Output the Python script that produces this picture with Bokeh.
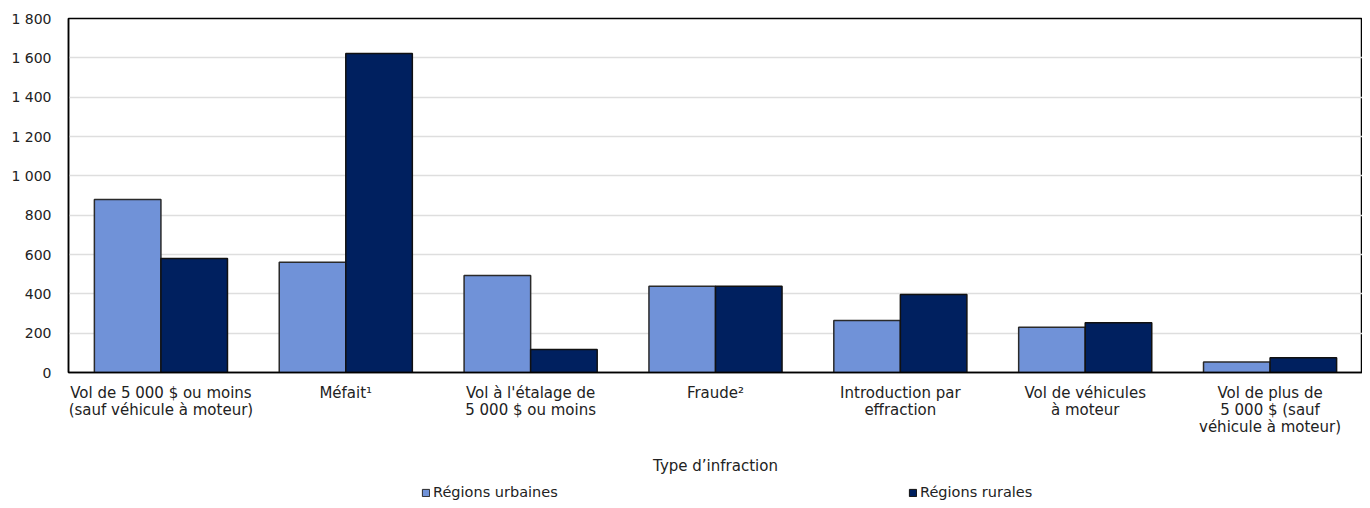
from bokeh.plotting import figure
from bokeh.layouts import column
from bokeh.models import FactorRange, Range1d, FixedTicker, Legend, LegendItem, ColumnDataSource
from bokeh.transform import dodge
from bokeh.embed import file_html
from bokeh.resources import INLINE

categories = [
    "Vol de 5 000 $ ou moins\n(sauf véhicule à moteur)",
    "Méfait¹",
    "Vol à l'étalage de\n5 000 $ ou moins",
    "Fraude²",
    "Introduction par\neffraction",
    "Vol de véhicules\nà moteur",
    "Vol de plus de\n5 000 $ (sauf\nvéhicule à moteur)",
]
urbaines = [880, 560, 493, 438, 264, 230, 54]
rurales = [580, 1622, 117, 438, 397, 253, 75]
y_ticks = [0, 200, 400, 600, 800, 1000, 1200, 1400, 1600, 1800]
y_tick_labels = ["0", "200", "400", "600", "800", "1 000", "1 200", "1 400", "1 600", "1 800"]
series_names = ["Régions urbaines", "Régions rurales"]
series_colors = ["#7092D8", "#00205F"]
x_title = "Type d’infraction"

FONT = "DejaVu Sans"
TXT = "#222222"

src = ColumnDataSource(dict(cat=categories, urb=urbaines, rur=rurales))
xr = FactorRange(*categories, range_padding=0)

p = figure(width=1362, height=478, x_range=xr,
           y_range=Range1d(0, 1800), output_backend="svg", toolbar_location=None,
           min_border_left=68, min_border_right=0, min_border_top=18, min_border_bottom=106)

r1 = p.vbar(x=dodge("cat", -0.18, range=xr), top="urb", width=0.36, source=src,
            fill_color=series_colors[0], line_color="#2a2a2a", line_width=1.5)
r2 = p.vbar(x=dodge("cat", 0.18, range=xr), top="rur", width=0.36, source=src,
            fill_color=series_colors[1], line_color="#111111", line_width=1.5)

p.outline_line_color = "black"
p.outline_line_width = 1.5
p.xgrid.grid_line_color = None
p.ygrid.grid_line_color = "#dedede"
p.ygrid.grid_line_width = 1.5

p.yaxis.ticker = FixedTicker(ticks=y_ticks)
p.yaxis.major_label_overrides = {t: l for t, l in zip(y_ticks, y_tick_labels)}
p.yaxis.major_tick_line_color = None
p.yaxis.minor_tick_line_color = None
p.yaxis.axis_line_color = "black"
p.yaxis.axis_line_width = 1.5
p.yaxis.major_label_standoff = 11
p.yaxis.major_label_text_font = FONT
p.yaxis.major_label_text_font_size = "14px"
p.yaxis.major_label_text_color = TXT

p.xaxis.major_label_text_font = FONT
p.xaxis.major_label_text_font_size = "15px"
p.xaxis.major_label_text_color = TXT
p.xaxis.major_label_text_line_height = 0.97
p.xaxis.major_tick_line_color = None
p.xaxis.minor_tick_line_color = None
p.xaxis.axis_line_color = "black"
p.xaxis.axis_line_width = 1.5
p.xaxis.major_label_standoff = 5
p.xaxis.axis_label = x_title
p.xaxis.axis_label_text_font = FONT
p.xaxis.axis_label_text_font_size = "15px"
p.xaxis.axis_label_text_font_style = "normal"
p.xaxis.axis_label_text_color = TXT
p.xaxis.axis_label_standoff = 18

# legend strip below the chart (hidden proxy renderers carry the legend styles)
q = figure(width=1362, height=22, x_range=xr, y_range=Range1d(0, 1800),
           output_backend="svg", toolbar_location=None,
           min_border_left=68, min_border_right=0, min_border_top=0, min_border_bottom=0)
q.axis.visible = False
q.grid.visible = False
q.outline_line_color = None
lr1 = q.vbar(x=dodge("cat", -0.18, range=xr), top="urb", width=0.36, source=src,
             fill_color=series_colors[0], line_color="#2a2a2a", line_width=1, visible=False)
lr2 = q.vbar(x=dodge("cat", 0.18, range=xr), top="rur", width=0.36, source=src,
             fill_color=series_colors[1], line_color="#111111", line_width=1, visible=False)
common = dict(orientation="horizontal", padding=0, margin=0, glyph_width=9, glyph_height=9,
              label_standoff=3, label_height=14, label_text_font=FONT, label_text_font_size="14.5px",
              label_text_color=TXT, border_line_color=None, background_fill_alpha=0,
              inactive_fill_alpha=0)
leg1 = Legend(items=[LegendItem(label=series_names[0], renderers=[lr1])], location=(353, 0), **common)
leg2 = Legend(items=[LegendItem(label=series_names[1], renderers=[lr2])], location=(840, 0), **common)
q.add_layout(leg1)
q.add_layout(leg2)

layout = column(p, q, spacing=0)
open("out.html", "w").write(file_html(layout, INLINE))
